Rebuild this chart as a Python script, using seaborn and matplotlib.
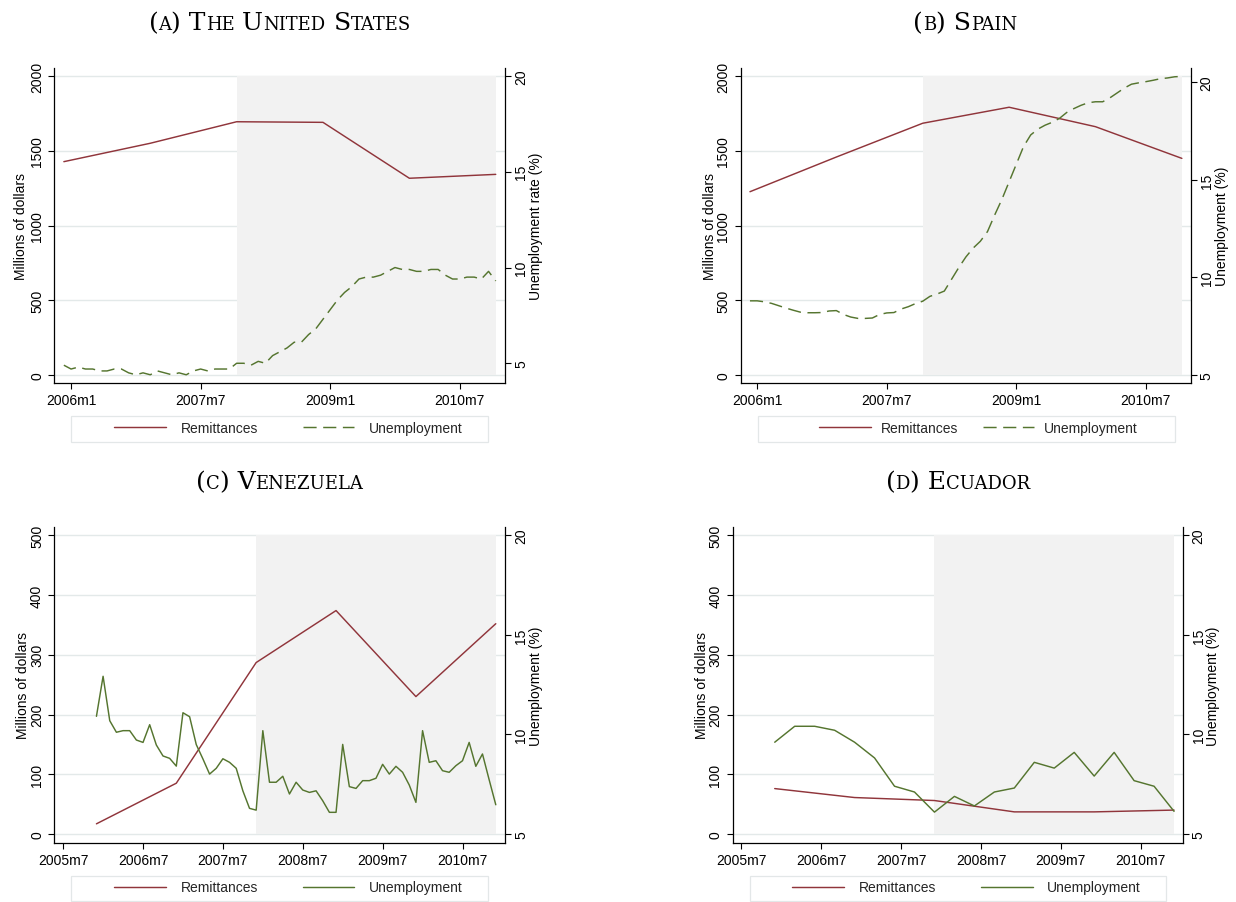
import numpy as np
import seaborn as sns
import matplotlib.pyplot as plt
from matplotlib.lines import Line2D
from matplotlib.patches import Rectangle
from matplotlib.offsetbox import TextArea, HPacker, AnnotationBbox

# remittances (millions of dollars), one observation per December
rem_dates = ["2005m12", "2006m12", "2007m12", "2008m12", "2009m12", "2010m12"]
rem_us = [1427, 1550, 1694, 1690, 1316, 1342]
rem_es = [1226, 1458, 1684, 1791, 1661, 1449]
rem_ve = [17, 85, 287, 374, 230, 352]
rem_ec = [76, 61, 56, 37, 37, 40]

# unemployment (%), monthly from 2005m12 (Ecuador: quarterly)
unemp_start = "2005m12"
unemp_us = [4.9,
            4.7, 4.8, 4.7, 4.7, 4.6, 4.6, 4.7, 4.7, 4.5, 4.4, 4.5, 4.4,
            4.6, 4.5, 4.4, 4.5, 4.4, 4.6, 4.7, 4.6, 4.7, 4.7, 4.7, 5.0,
            5.0, 4.9, 5.1, 5.0, 5.4, 5.6, 5.8, 6.1, 6.1, 6.5, 6.8, 7.3,
            7.8, 8.3, 8.7, 9.0, 9.4, 9.5, 9.5, 9.6, 9.8, 10.0, 9.9, 9.9,
            9.8, 9.8, 9.9, 9.9, 9.6, 9.4, 9.4, 9.5, 9.5, 9.4, 9.8, 9.3]
unemp_es = [8.80,
            8.80, 8.75, 8.67, 8.55, 8.43, 8.32, 8.22, 8.19, 8.19, 8.20, 8.28, 8.30,
            8.10, 7.97, 7.90, 7.90, 7.92, 8.10, 8.18, 8.20, 8.38, 8.50, 8.66, 8.78,
            9.03, 9.15, 9.30, 9.90, 10.50, 11.05, 11.50, 11.85, 12.35, 13.20, 14.00, 14.90,
            15.80, 16.70, 17.30, 17.60, 17.80, 17.95, 18.15, 18.45, 18.65, 18.82, 18.95, 19.00,
            19.00, 19.20, 19.45, 19.70, 19.90, 19.97, 20.03, 20.10, 20.18, 20.22, 20.28, 20.30]
unemp_ve = [10.91,
            12.92, 10.69, 10.11, 10.19, 10.19, 9.72, 9.60, 10.49, 9.47, 8.92, 8.80, 8.41,
            11.09, 10.89, 9.49, 8.77, 8.01, 8.30, 8.78, 8.60, 8.30, 7.17, 6.29, 6.20,
            10.19, 7.60, 7.60, 7.90, 7.01, 7.60, 7.21, 7.09, 7.17, 6.67, 6.09, 6.09,
            9.50, 7.38, 7.29, 7.68, 7.68, 7.80, 8.50, 8.01, 8.40, 8.10, 7.46, 6.59,
            10.19, 8.60, 8.68, 8.18, 8.10, 8.43, 8.68, 9.60, 8.40, 9.02, 7.73, 6.47]
unemp_ec = [9.61, 10.41, 10.41, 10.21, 9.61, 8.82, 7.40, 7.11, 6.10, 6.89, 6.41,
            7.11, 7.31, 8.60, 8.31, 9.10, 7.91, 9.10, 7.68, 7.40, 6.14]

recession = ("2007m12", "2010m12")
ticks_ab = ["2006m1", "2007m7", "2009m1", "2010m7"]
ticks_cd = ["2005m7", "2006m7", "2007m7", "2008m7", "2009m7", "2010m7"]
yticks_big = [0, 500, 1000, 1500, 2000]
yticks_small = [0, 100, 200, 300, 400, 500]
yticks_right = [5, 10, 15, 20]

RED, GREEN = "#90353B", "#55752F"
GRID, SHADE = "#E3E9E9", "#F2F2F2"
W, H = 1236, 903
LW = 1.05
DASH = (0, (9.0, 4.5))


def mnum(s):
    y, m = s.split("m")
    return (int(y) - 2006) * 12 + int(m) - 1


sns.set_style("ticks")
plt.rcParams["font.family"] = ["Liberation Sans", "DejaVu Sans"]
plt.rcParams["axes.linewidth"] = 0.9

fig = plt.figure(figsize=(W / 100, H / 100), dpi=100)


def smallcaps(text, x, baseline, big=18, small=13):
    runs = []
    for ch in text:
        low = ch.islower()
        if runs and runs[-1][1] == low:
            runs[-1][0] += ch.upper()
        else:
            runs.append([ch.upper(), low])
    boxes = [TextArea(t, textprops=dict(fontsize=small if low else big,
                                        family="DejaVu Serif", color="black"))
             for t, low in runs]
    pack = HPacker(children=boxes, align="baseline", pad=0, sep=0)
    ab = AnnotationBbox(pack, (x / W, 1 - (baseline + 5.8) / H),
                        xycoords="figure fraction", box_alignment=(0.5, 0),
                        frameon=False, pad=0)
    fig.add_artist(ab)


panels = [
    dict(title="(a) The United States", box=(54.5, 505.1, 69, 384),
         rem=rem_us, un=unemp_us, step=1, ls=DASH,
         ylim=(-53.5, 2053.5), yticks=yticks_big, ylim2=(3.97, 20.42),
         xlim=(-2.3, 60.3), xticks=ticks_ab, rlabel="Unemployment rate (%)",
         lpad=-26.5, rpad=23.8, leg=(288.5, 429), frame=(71.1, 488.1, 417, 443),
         htp=1.05, cs=3.2),
    dict(title="(b) Spain", box=(740.6, 1190.5, 69, 384),
         rem=rem_es, un=unemp_es, step=1, ls=DASH,
         ylim=(-53.5, 2053.5), yticks=yticks_big, ylim2=(4.59, 20.73),
         xlim=(-2.3, 60.2), xticks=ticks_ab, rlabel="Unemployment (%)",
         lpad=-23.5, rpad=24.8, leg=(978.5, 429), frame=(757.5, 1174.8, 417, 443),
         htp=0.7, cs=1.76),
    dict(title="(c) Venezuela", box=(54.5, 505.1, 527.7, 844),
         rem=rem_ve, un=unemp_ve, step=1, ls="-",
         ylim=(-15.1, 514.4), yticks=yticks_small, ylim2=(4.55, 20.43),
         xlim=(-7.3, 60.4), xticks=ticks_cd, rlabel="Unemployment (%)",
         lpad=-24.5, rpad=23.8, leg=(288.5, 888.5), frame=(71.1, 488.1, 876.7, 901.7),
         htp=1.05, cs=3.2),
    dict(title="(d) Ecuador", box=(732.8, 1182.7, 527.7, 844),
         rem=rem_ec, un=unemp_ec, step=3, ls="-",
         ylim=(-15.1, 514.4), yticks=yticks_small, ylim2=(4.55, 20.43),
         xlim=(-7.3, 60.3), xticks=ticks_cd, rlabel="Unemployment (%)",
         lpad=-24, rpad=23.5, leg=(966.6, 888.5), frame=(749.7, 1166.2, 876.7, 901.7),
         htp=1.05, cs=3.2),
]

for p in panels:
    l, r, t, b = p["box"]
    ax = fig.add_axes([l / W, 1 - b / H, (r - l) / W, (b - t) / H])
    ax2 = ax.twinx()

    # recession shading, then the two series
    ax.fill_between([mnum(recession[0]), mnum(recession[1])], 0, p["yticks"][-1],
                    color=SHADE, lw=0, zorder=1)
    sns.lineplot(x=[mnum(d) for d in rem_dates], y=p["rem"], ax=ax,
                 color=RED, lw=LW, zorder=3)
    ux = mnum(unemp_start) + p["step"] * np.arange(len(p["un"]))
    sns.lineplot(x=ux, y=p["un"], ax=ax2, color=GREEN, lw=LW, linestyle=p["ls"])

    ax.set_xlim(p["xlim"])
    ax.set_ylim(p["ylim"])
    ax2.set_ylim(p["ylim2"])
    ax.set_xticks([mnum(s) for s in p["xticks"]], p["xticks"])
    ax.set_yticks(p["yticks"], [str(v) for v in p["yticks"]])
    ax2.set_yticks(yticks_right, [str(v) for v in yticks_right])

    ax.set_axisbelow(True)
    ax.grid(axis="y", color=GRID, lw=1.0)
    ax.grid(axis="x", visible=False)
    for s in ["top", "right"]:
        ax.spines[s].set_visible(False)
    for s in ["top", "left", "bottom"]:
        ax2.spines[s].set_visible(False)
    for s in ax.spines.values():
        s.set_color("black")
    ax2.spines["right"].set_color("black")

    ax.tick_params(axis="both", direction="out", length=4, width=0.8,
                   color="black", labelsize=10, labelcolor="black")
    ax.tick_params(axis="y", pad=3.5, labelrotation=90)
    ax.tick_params(axis="x", pad=3)
    ax2.tick_params(axis="y", direction="out", length=4, width=0.8, color="black",
                    pad=2.5, labelsize=10, labelcolor="black", labelrotation=90)
    for lab in ax.get_yticklabels() + ax2.get_yticklabels():
        lab.set_va("center")

    ax.set_xlabel("")
    ax.set_ylabel("Millions of dollars", fontsize=10, color="black")
    ax.yaxis.set_label_coords(p["lpad"] / (r - l), 0.5)
    ax2.set_ylabel(p["rlabel"], fontsize=10, color="black")
    ax2.yaxis.set_label_coords(1 + p["rpad"] / (r - l), 0.5)

    handles = [Line2D([], [], color=RED, lw=LW),
               Line2D([], [], color=GREEN, lw=LW, linestyle=p["ls"])]
    cx, cy = p["leg"]
    ax.legend(handles, ["Remittances", "Unemployment"], loc="center",
              bbox_to_anchor=(cx / W, 1 - cy / H), bbox_transform=fig.transFigure,
              ncol=2, frameon=False, fontsize=10, handlelength=3.74,
              handletextpad=p["htp"], columnspacing=p["cs"])
    fx0, fx1, fy0, fy1 = p["frame"]
    fig.add_artist(Rectangle((fx0 / W, 1 - fy1 / H), (fx1 - fx0) / W, (fy1 - fy0) / H,
                             transform=fig.transFigure, fill=False,
                             edgecolor="#E3E7E8", lw=0.9))

    smallcaps(p["title"], (l + r) / 2, t - 39.5)

fig.savefig("out.png", dpi=100)
